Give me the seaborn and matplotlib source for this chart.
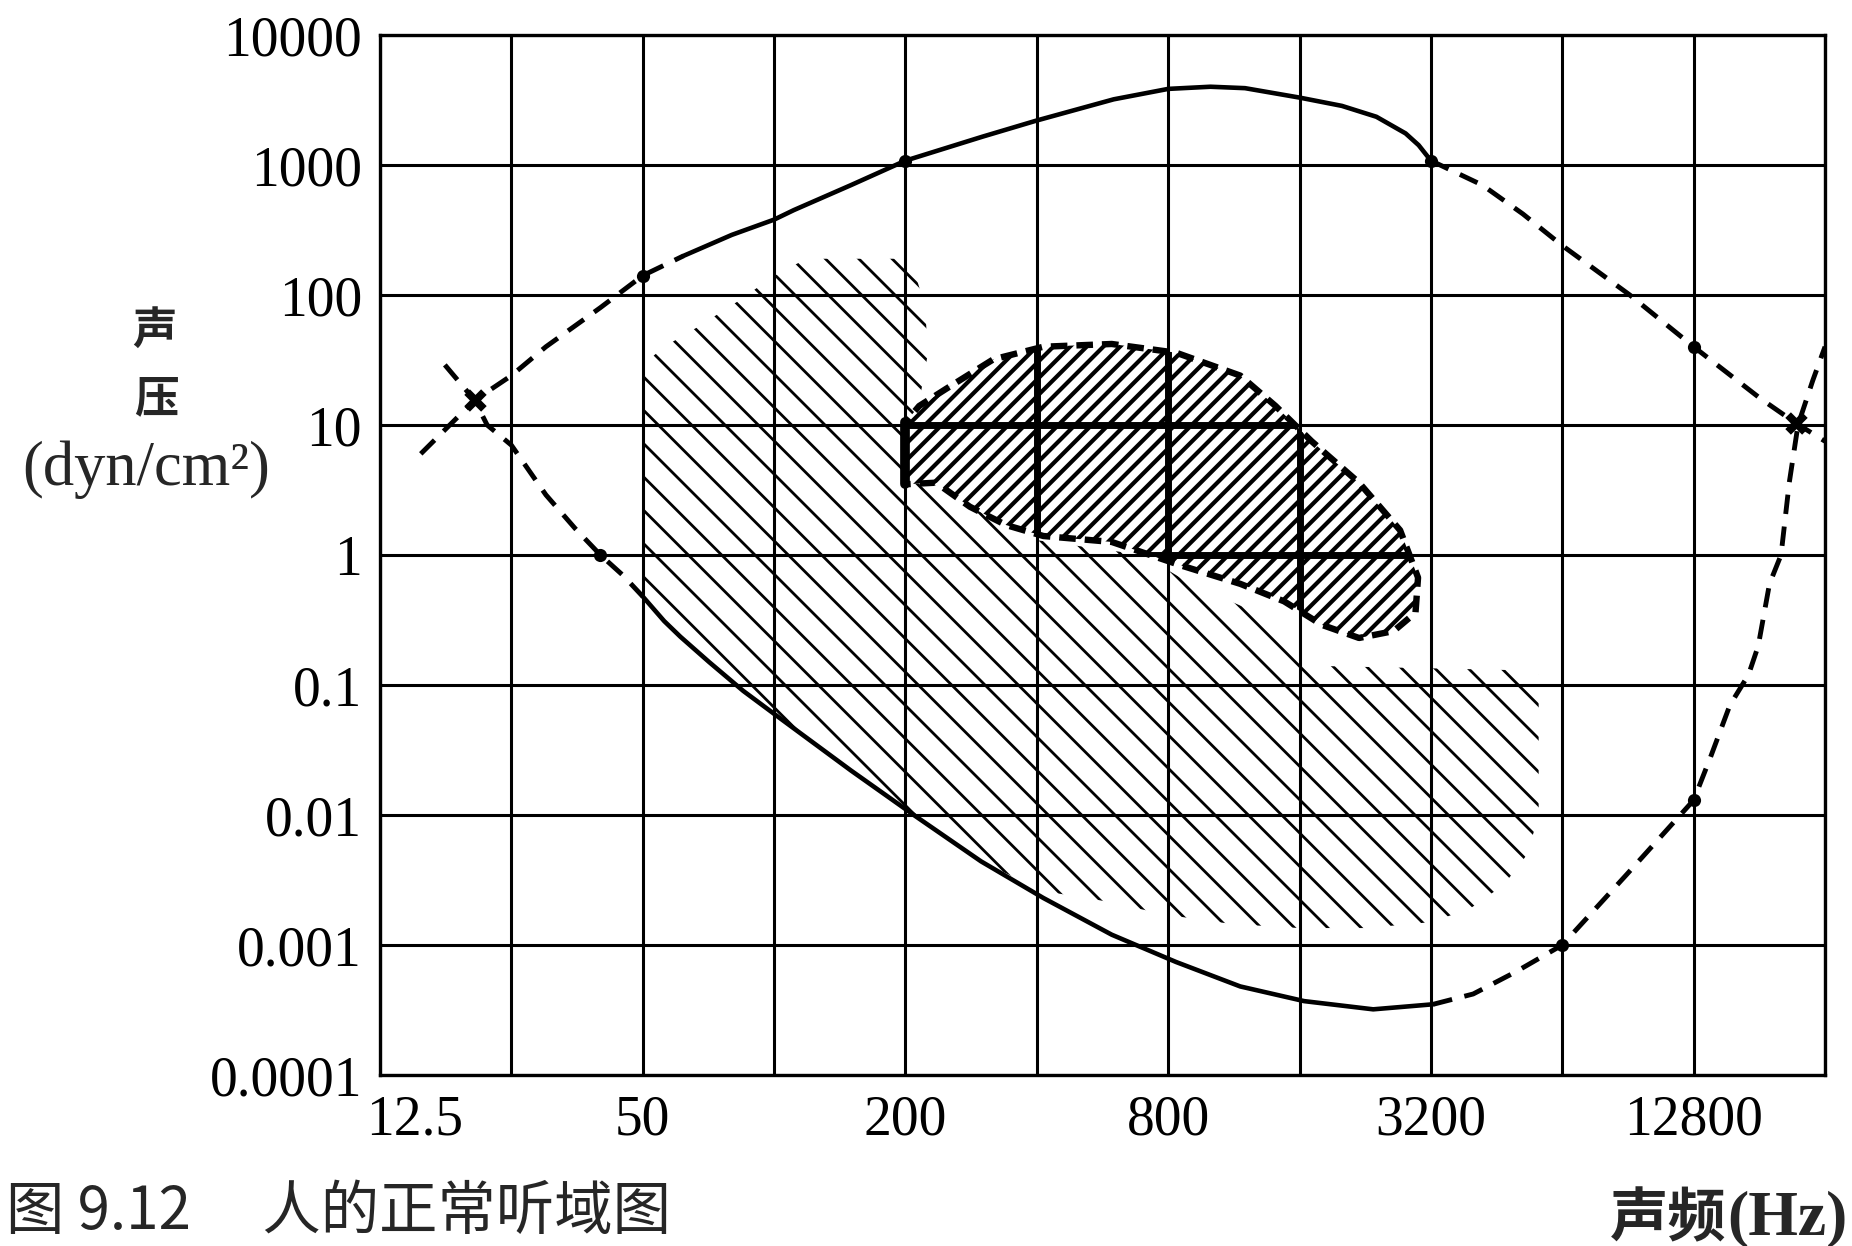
import numpy as np
import pandas as pd
import matplotlib
matplotlib.use("Agg")
import matplotlib.pyplot as plt
import matplotlib.transforms as mtransforms
from matplotlib.patches import Polygon
import seaborn as sns

# ---------------- data ----------------
x_grid = [12.5, 25, 50, 100, 200, 400, 800, 1600, 3200, 6400, 12800, 25600]
x_labels = ["12.5", "", "50", "", "200", "", "800", "", "3200", "", "12800", ""]
y_grid = [1e-4, 1e-3, 1e-2, 1e-1, 1, 10, 100, 1000, 10000]
y_labels = ["0.0001", "0.001", "0.01", "0.1", "1", "10", "100", "1000", "10000"]

# upper limit (feeling / pain) - solid part
pain_f = [62, 80, 100, 111, 150, 200, 300, 400, 600, 800, 1000, 1200, 1600, 2000, 2400, 2800, 3000, 3200]
pain_p = [200, 290, 380, 450, 700, 1080, 1650, 2200, 3200, 3850, 4000, 3900, 3300, 2850, 2350, 1750, 1420, 1080]
# upper limit - dashed extrapolations
pain_hi_f = [3200, 4200, 5200, 6400, 9140, 12800, 18200, 21800, 25600]
pain_hi_p = [1080, 700, 420, 240, 100, 40, 16, 10.5, 7.5]
pain_lo_f = [15.5, 17.5, 20.6, 25, 30, 40, 50, 62]
pain_lo_p = [6, 9, 15.5, 24, 40, 80, 141, 200]

# hearing threshold - solid part
thr_f = [50, 56, 61, 71, 85, 100, 150, 209, 298, 414, 594, 834, 1170, 1640, 2360, 3240]
thr_p = [0.48, 0.31, 0.235, 0.15, 0.09, 0.06, 0.022, 0.01, 0.0044, 0.0023, 0.0012, 0.00074,
         0.00048, 0.00037, 0.00032, 0.00035]
# hearing threshold - dashed extrapolations
thr_hi_f = [3240, 4000, 5000, 6400, 9000, 12800, 14000, 15500, 17100, 18000, 19100, 20300,
            21200, 22200, 24000, 25600]
thr_hi_p = [0.00035, 0.00042, 0.00062, 0.001, 0.0035, 0.013, 0.028, 0.07, 0.12, 0.2, 0.6, 1,
            3.6, 10, 22, 40]
thr_lo_f = [17.6, 20.6, 22, 25, 30, 35, 40, 45, 50]
thr_lo_p = [29, 15.5, 10, 7, 2.9, 1.6, 1.0, 0.7, 0.48]

# music area (light hatching)
music_f = [50, 50, 56, 67, 82, 100, 115, 130, 200, 210, 222, 225, 215, 260, 400, 700, 900, 1300,
           1600, 1800, 3000, 5000, 5650, 5650, 5300, 4700, 3930, 3200, 2280, 1600, 1120, 800, 561,
           414, 298, 209, 150, 100, 85, 71, 61, 56]
music_p = [0.48, 29, 40, 57, 88, 140, 180, 190, 190, 150, 80, 35, 15, 3, 1.3, 1.0, 0.6, 0.35,
           0.2, 0.14, 0.135, 0.13, 0.12, 0.0098, 0.0049, 0.0029, 0.0019, 0.0015, 0.00135,
           0.00135, 0.00145, 0.0017, 0.0022, 0.0026, 0.0044, 0.01, 0.022, 0.06, 0.09, 0.15,
           0.235, 0.31]

# speech area (dense hatching)
speech_f = [200, 200, 215, 248, 318, 414, 594, 834, 1170, 1410, 1705, 2190, 2720, 2990, 2950,
            2630, 2190, 1800, 1475, 1170, 857, 594, 414, 340, 281, 235]
speech_p = [3.5, 10.5, 14, 19, 32, 40, 42, 36, 24, 14, 7.5, 3.6, 1.55, 0.67, 0.36, 0.26, 0.23,
            0.29, 0.44, 0.6, 0.83, 1.26, 1.4, 1.7, 2.35, 3.6]

dot_f = [200, 3200, 50, 6400, 12800, 40, 12800]
dot_p = [1080, 1080, 141, 0.001, 0.013, 1.0, 40]
cross_f = [20.6, 22000]
cross_p = [15.5, 10.3]

# ---------------- figure ----------------
sns.set_theme(style="white")
plt.rcParams["font.family"] = ["Liberation Serif", "DejaVu Serif"]
plt.rcParams["hatch.linewidth"] = 2.2
plt.rcParams["hatch.color"] = "black"

W, H = 1852, 1246
fig = plt.figure(figsize=(W / 100, H / 100), dpi=100)
fig.patch.set_facecolor("white")
ax = fig.add_axes([380 / W, 1 - 1075 / H, 1445 / W, 1040 / H])
ax.set_facecolor("white")
ax.set_xscale("log", base=2)
ax.set_yscale("log", base=10)
ax.set_xlim(12.5, 25600)
ax.set_ylim(1e-4, 1e4)

# hatched areas
music = Polygon(np.column_stack([music_f, music_p]), closed=True, facecolor="none",
                edgecolor="black", linewidth=0, hatch="\\", zorder=1)
ax.add_patch(music)
speech = Polygon(np.column_stack([speech_f, speech_p]), closed=True, facecolor="white",
                 edgecolor="black", linewidth=0, hatch="//", zorder=1.5)
ax.add_patch(speech)
if hasattr(music, "set_hatch_linewidth"):
    music.set_hatch_linewidth(2.0)
    speech.set_hatch_linewidth(3.0)

# grid
ax.set_xticks(x_grid)
ax.set_xticklabels(x_labels)
ax.set_yticks(y_grid)
ax.set_yticklabels(y_labels)
ax.minorticks_off()
ax.grid(True, which="major", color="black", linewidth=2.2)
ax.set_axisbelow(False)
for s in ax.spines.values():
    s.set_color("black")
    s.set_linewidth(2.4)
ax.tick_params(axis="both", length=0, labelsize=40, colors="black")
ax.tick_params(axis="x", pad=14)
ax.tick_params(axis="y", pad=13)

# bold grid lines inside the speech area (print effect)
for f in x_grid[4:8]:
    ln = ax.axvline(f, color="black", lw=5, zorder=2.6)
    ln.set_clip_path(speech)
for p in [1, 10]:
    ln = ax.axhline(p, color="black", lw=5, zorder=2.6)
    ln.set_clip_path(speech)

# curves
solid_kw = dict(color="black", lw=3.3, sort=False, estimator=None, ax=ax, zorder=3)
dash_kw = dict(color="black", lw=3.5, sort=False, estimator=None, ax=ax, zorder=3,
               linestyle=(0, (4, 2.6)))
sns.lineplot(x=pain_f, y=pain_p, **solid_kw)
sns.lineplot(x=thr_f, y=thr_p, **solid_kw)
for f, p in [(pain_hi_f, pain_hi_p), (pain_lo_f, pain_lo_p), (thr_hi_f, thr_hi_p), (thr_lo_f, thr_lo_p)]:
    sns.lineplot(x=f, y=p, **dash_kw)

# speech area outline
sns.lineplot(x=speech_f + speech_f[:1], y=speech_p + speech_p[:1], color="black", lw=4.6,
             sort=False, estimator=None, ax=ax, zorder=3.2, linestyle=(0, (2.6, 1.4)))
sns.lineplot(x=speech_f[:2], y=speech_p[:2], color="black", lw=7, sort=False,
             estimator=None, ax=ax, zorder=3.2)

# emphasis dots
sns.scatterplot(x=dot_f, y=dot_p, color="black", s=90, linewidth=0, ax=ax, zorder=4)
sns.scatterplot(x=cross_f, y=cross_p, color="black", s=260, marker="X", linewidth=0, ax=ax, zorder=4)

ax.set_xlabel("")
ax.set_ylabel("")

# shift the first x label slightly right like the original
lbl0 = ax.get_xticklabels()[0]
lbl0.set_transform(lbl0.get_transform() + mtransforms.ScaledTranslation(0.35, 0, fig.dpi_scale_trans))

# axis titles
cjk = ["Noto Sans CJK SC", "DejaVu Sans"]
serif = ["Liberation Serif", "DejaVu Serif"]
fig.text(154 / W, 1 - 331 / H, "声", family=cjk, fontsize=32, fontweight="bold",
         ha="center", va="center")
fig.text(156 / W, 1 - 399 / H, "压", family=cjk, fontsize=32, fontweight="bold",
         ha="center", va="center")
fig.text(146 / W, 1 - 470 / H, "(dyn/cm²)", family=serif, fontsize=45,
         ha="center", va="center")
fig.text(1727 / W, 1 - 1219 / H, "声频", family=cjk, fontsize=42, fontweight="bold",
         ha="right", va="center")
fig.text(1727 / W, 1 - 1219 / H, "(Hz)", family=serif, fontsize=46, fontweight="bold",
         ha="left", va="center")

# figure caption
fig.text(6 / W, 1 - 1243 / H, "图 9.12\u3000 人的正常听域图", family=cjk, fontsize=42,
         fontweight="light", ha="left", va="bottom")

fig.savefig("out.png", dpi=100, facecolor="white")
